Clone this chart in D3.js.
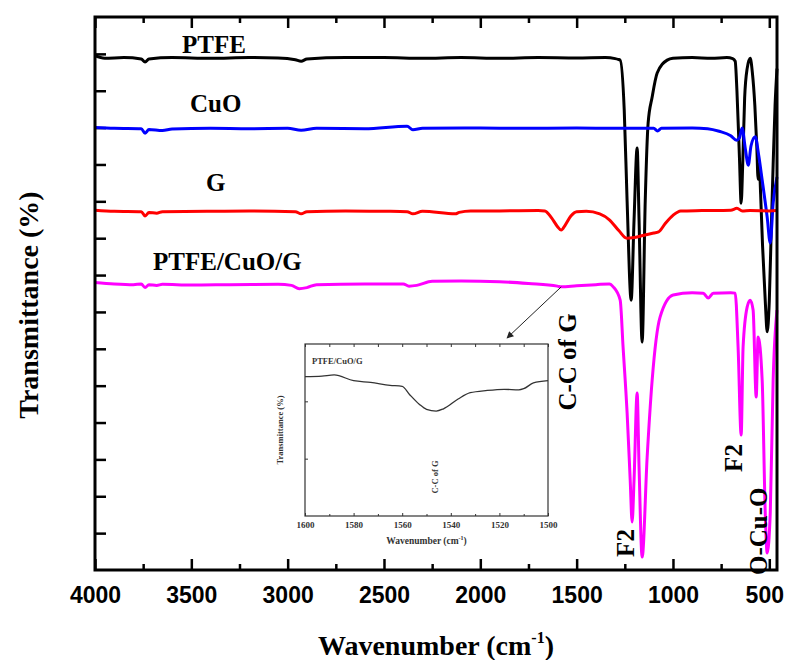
<!DOCTYPE html>
<html>
<head>
<meta charset="utf-8">
<script src="https://cdnjs.cloudflare.com/ajax/libs/d3/7.8.5/d3.min.js"></script>
<style>
body { margin: 0; background: #fff; }
.serif { font-family: "Liberation Serif", "Times New Roman", serif; font-weight: bold; }
.sans { font-family: "Liberation Sans", Arial, sans-serif; font-weight: bold; }
</style>
</head>
<body>
<div id="chart"></div>
<script>
// Spectra (wavenumber in cm-1, transmittance in arbitrary offset units)
var ptfeWave = [4000, 3950, 3850, 3760, 3740, 3720, 3600, 3400, 3200, 3050, 2960, 2930, 2900, 2700, 2500, 2300, 2100, 1900, 1700, 1500,
    1350, 1300, 1285, 1274, 1253, 1238, 1217, 1202, 1186, 1176, 1160, 1144, 1129, 1108, 1082, 1030, 1000, 900, 800, 720,
    690, 677, 668, 655, 646, 638, 628, 615, 599, 588, 575, 565, 558, 552, 545, 535, 520, 511, 500, 490, 480, 470, 460];
var ptfeT = [13.95, 13.88, 13.9, 13.86, 13.78, 13.86, 13.9, 13.88, 13.9, 13.89, 13.84, 13.8, 13.86, 13.9, 13.9, 13.88, 13.9, 13.88, 13.9, 13.89,
    13.9, 13.87, 13.85, 13.83, 12.48, 10.0, 7.32, 9.49, 11.45, 9.49, 6.18, 10.0, 12.12, 12.83, 13.48, 13.83, 13.88, 13.9, 13.88, 13.9,
    13.87, 13.8, 13.0, 11.2, 9.95, 11.0, 12.8, 13.6, 13.88, 13.5, 12.6, 11.5, 10.6, 11.0, 10.2, 8.8, 7.2, 6.46, 7.3, 9.2, 11.0, 12.6, 13.6];

var cuoWave = [4000, 3900, 3760, 3740, 3720, 3650, 3600, 3400, 3200, 3000, 2930, 2850, 2600, 2380, 2350, 2300, 2000, 1800, 1500, 1300,
    1100, 1080, 1060, 900, 820, 760, 700, 670, 655, 641, 625, 609, 595, 573, 555, 537, 511, 495, 480, 460];
var cuoT = [12.0, 11.98, 11.97, 11.85, 11.95, 11.92, 11.96, 11.98, 11.97, 11.98, 11.93, 11.98, 11.97, 12.04, 11.94, 11.98, 11.99, 11.98, 11.99, 11.98,
    11.98, 11.91, 11.98, 11.99, 11.97, 11.9, 11.78, 11.66, 11.72, 11.99, 11.45, 10.98, 11.5, 11.75, 11.25, 10.58, 9.57, 8.87, 9.95, 10.66];

var gWave = [4000, 3900, 3760, 3740, 3720, 3680, 3650, 3400, 3200, 2960, 2930, 2900, 2700, 2500, 2380, 2350, 2300, 2130, 2110, 2050,
    1900, 1700, 1665, 1630, 1600, 1580, 1560, 1530, 1500, 1450, 1380, 1330, 1280, 1240, 1200, 1150, 1100, 1075, 1040, 1000,
    960, 850, 700, 668, 640, 600, 500, 460];
var gT = [9.76, 9.73, 9.72, 9.6, 9.7, 9.68, 9.72, 9.73, 9.74, 9.72, 9.66, 9.72, 9.74, 9.73, 9.72, 9.66, 9.73, 9.66, 9.7, 9.74,
    9.74, 9.75, 9.74, 9.55, 9.32, 9.22, 9.35, 9.6, 9.72, 9.73, 9.66, 9.5, 9.2, 9.0, 9.02, 9.08, 9.14, 9.17, 9.4, 9.62,
    9.74, 9.75, 9.76, 9.81, 9.74, 9.75, 9.74, 9.75];

var mixWave = [4000, 3900, 3800, 3760, 3740, 3720, 3680, 3650, 3500, 3300, 3050, 2980, 2940, 2900, 2850, 2600, 2400, 2370, 2330, 2250,
    2100, 1900, 1750, 1600, 1580, 1500, 1400, 1330, 1310, 1274, 1259, 1238, 1222, 1212, 1202, 1186, 1176, 1160, 1134, 1108,
    1067, 999, 900, 843, 817, 791, 700, 677, 662, 646, 636, 615, 599, 584, 568, 558, 537, 521, 511, 495, 480, 460];
var mixT = [7.8, 7.76, 7.74, 7.76, 7.66, 7.74, 7.72, 7.75, 7.73, 7.74, 7.75, 7.72, 7.63, 7.66, 7.74, 7.76, 7.76, 7.7, 7.72, 7.83,
    7.84, 7.82, 7.77, 7.7, 7.68, 7.71, 7.74, 7.76, 7.68, 7.32, 6.05, 4.26, 2.44, 1.3, 2.44, 4.8, 2.79, 0.35, 3.06, 5.15,
    6.86, 7.46, 7.52, 7.51, 7.38, 7.51, 7.52, 7.51, 6.05, 3.66, 6.05, 7.13, 7.32, 7.05, 4.69, 6.32, 5.15, 1.55, 0.46, 1.55, 5.15, 7.05];

// inset: zoom of PTFE/CuO/G around the C-C band
var insetWave = [1600, 1593, 1588, 1580, 1573, 1565, 1560, 1557, 1553, 1550, 1546, 1543, 1537, 1532, 1525, 1518, 1512, 1510, 1506, 1500];
var insetT = [2.43, 2.44, 2.46, 2.36, 2.33, 2.28, 2.26, 2.12, 1.95, 1.86, 1.83, 1.87, 2.04, 2.15, 2.19, 2.21, 2.2, 2.22, 2.32, 2.36];

var seriesNames = ["PTFE", "CuO", "G", "PTFE/CuO/G"];
var seriesColors = ["#000000", "#0000ff", "#ff0000", "#ff00ff"];
var xMajorTicks = [4000, 3500, 3000, 2500, 2000, 1500, 1000, 500];
var xMinorTicks = [3750, 3250, 2750, 2250, 1750, 1250, 750];
var insetMajorTicks = [1600, 1580, 1560, 1540, 1520, 1500];
var insetMinorTicks = [1590, 1570, 1550, 1530, 1510];

var svgWidth = 787;
var svgHeight = 660;

var margin = { top: 17, right: 10, bottom: 90, left: 95 };
var width = svgWidth - margin.left - margin.right;
var height = svgHeight - margin.top - margin.bottom;

var svg = d3.select("#chart")
    .append("svg")
    .attr("width", svgWidth)
    .attr("height", svgHeight);

var defs = svg.append("defs");
defs.append("marker")
    .attr("id", "arrow")
    .attr("viewBox", "0 0 10 10")
    .attr("refX", 9)
    .attr("refY", 5)
    .attr("markerWidth", 9)
    .attr("markerHeight", 7)
    .attr("orient", "auto")
    .append("path")
    .attr("d", "M0,0L10,5L0,10z")
    .attr("fill", "#222");

var chartGroup = svg.append("g")
    .attr("transform", `translate(${margin.left}, ${margin.top})`);

var xScale = d3.scaleLinear().domain([4000, 460]).range([0, width]);
var yScale = d3.scaleLinear().domain([0, 15]).range([height, 0]);

// axes, ticks pointing inward
function styleAxis(g) {
    g.select(".domain").remove();
    g.selectAll(".tick line").attr("stroke", "#000").attr("stroke-width", 2.5);
}

chartGroup.append("g")
    .attr("transform", `translate(0, ${height})`)
    .call(d3.axisBottom(xScale).tickValues(xMajorTicks).tickSize(-11).tickPadding(17).tickFormat(d3.format("d")))
    .call(styleAxis)
    .selectAll("text")
    .attr("class", "sans")
    .attr("dx", d => d === 500 ? -5 : 0)
    .style("font-size", "23px")
    .attr("fill", "#000");

chartGroup.append("g")
    .attr("transform", `translate(0, ${height})`)
    .call(d3.axisBottom(xScale).tickValues(xMinorTicks).tickSize(-6).tickFormat(""))
    .call(styleAxis);

chartGroup.append("g")
    .call(d3.axisTop(xScale).tickValues(xMajorTicks).tickSize(-11).tickFormat(""))
    .call(styleAxis);

chartGroup.append("g")
    .call(d3.axisTop(xScale).tickValues(xMinorTicks).tickSize(-6).tickFormat(""))
    .call(styleAxis);

chartGroup.append("g")
    .call(d3.axisLeft(yScale).tickValues(d3.range(1, 15)).tickSize(-11).tickFormat(""))
    .call(styleAxis);

// spectra
var series = [
    d3.zip(ptfeWave, ptfeT),
    d3.zip(cuoWave, cuoT),
    d3.zip(gWave, gT),
    d3.zip(mixWave, mixT)
];

var line = d3.line()
    .x(d => xScale(d[0]))
    .y(d => yScale(d[1]))
    .curve(d3.curveMonotoneX);

chartGroup.selectAll(".spectrum")
    .data(series)
    .enter()
    .append("path")
    .attr("class", "spectrum")
    .attr("d", line)
    .attr("fill", "none")
    .attr("stroke", (d, i) => seriesColors[i])
    .attr("stroke-width", 3)
    .attr("stroke-linejoin", "round");

// frame
chartGroup.append("rect")
    .attr("width", width)
    .attr("height", height)
    .attr("fill", "none")
    .attr("stroke", "#000")
    .attr("stroke-width", 3);

// series labels
var labelPos = [[182, 53], [190, 112], [206, 191], [153, 270]];
svg.selectAll(".series-label")
    .data(seriesNames)
    .enter()
    .append("text")
    .attr("class", "serif")
    .attr("x", (d, i) => labelPos[i][0])
    .attr("y", (d, i) => labelPos[i][1])
    .style("font-size", "25px")
    .text(d => d);

// band annotations
var notes = [
    { t: "C-C of G", x: 576, y: 362, anchor: "middle" },
    { t: "F2", x: 634, y: 543, anchor: "middle" },
    { t: "F2", x: 742, y: 458, anchor: "middle" },
    { t: "O-Cu-O", x: 767, y: 575, anchor: "start" }
];
svg.selectAll(".note")
    .data(notes)
    .enter()
    .append("text")
    .attr("class", "serif")
    .attr("transform", d => `translate(${d.x}, ${d.y}) rotate(-90)`)
    .attr("text-anchor", d => d.anchor)
    .style("font-size", "25px")
    .text(d => d.t);

// axis titles
svg.append("text")
    .attr("class", "serif")
    .attr("transform", "translate(38, 305) rotate(-90)")
    .attr("text-anchor", "middle")
    .style("font-size", "28px")
    .text("Transmittance (%)");

var xTitle = svg.append("text")
    .attr("class", "serif")
    .attr("x", 436)
    .attr("y", 655)
    .attr("text-anchor", "middle")
    .style("font-size", "28px");
xTitle.append("tspan").text("Wavenumber (cm");
xTitle.append("tspan").attr("dy", -12).style("font-size", "16px").text("-1");
xTitle.append("tspan").attr("dy", 12).text(")");

// inset
var inset = { left: 305, top: 344, width: 243, height: 172 };
var insetGroup = svg.append("g")
    .attr("transform", `translate(${inset.left}, ${inset.top})`);

var ixScale = d3.scaleLinear().domain([1600, 1500]).range([0, inset.width]);
var iyScale = d3.scaleLinear().domain([0, 3]).range([inset.height, 0]);

insetGroup.append("rect")
    .attr("width", inset.width)
    .attr("height", inset.height)
    .attr("fill", "#fff")
    .attr("stroke", "#333")
    .attr("stroke-width", 1.2);

function styleInsetAxis(g) {
    g.select(".domain").remove();
    g.selectAll(".tick line").attr("stroke", "#333").attr("stroke-width", 1);
}

insetGroup.append("g")
    .attr("transform", `translate(0, ${inset.height})`)
    .call(d3.axisBottom(ixScale).tickValues(insetMajorTicks).tickSize(-3).tickPadding(6).tickFormat(d3.format("d")))
    .call(styleInsetAxis)
    .selectAll("text")
    .attr("class", "serif")
    .style("font-size", "9px")
    .attr("fill", "#333");

insetGroup.append("g")
    .attr("transform", `translate(0, ${inset.height})`)
    .call(d3.axisBottom(ixScale).tickValues(insetMinorTicks).tickSize(-2).tickFormat(""))
    .call(styleInsetAxis);

insetGroup.append("g")
    .call(d3.axisTop(ixScale).tickValues(insetMajorTicks.concat(insetMinorTicks)).tickSize(-3).tickFormat(""))
    .call(styleInsetAxis);

insetGroup.append("g")
    .call(d3.axisLeft(iyScale).tickValues([1, 2]).tickSize(-3).tickFormat(""))
    .call(styleInsetAxis);

insetGroup.append("path")
    .datum(d3.zip(insetWave, insetT))
    .attr("d", d3.line().x(d => ixScale(d[0])).y(d => iyScale(d[1])).curve(d3.curveMonotoneX))
    .attr("fill", "none")
    .attr("stroke", "#333")
    .attr("stroke-width", 1.3);

insetGroup.append("text")
    .attr("class", "serif")
    .attr("x", 7)
    .attr("y", 20)
    .style("font-size", "8.5px")
    .attr("fill", "#333")
    .text("PTFE/CuO/G");

insetGroup.append("text")
    .attr("class", "serif")
    .attr("transform", `translate(-22, ${iyScale(1.5)}) rotate(-90)`)
    .attr("text-anchor", "middle")
    .style("font-size", "8.5px")
    .attr("fill", "#333")
    .text("Transmittance (%)");

insetGroup.append("text")
    .attr("class", "serif")
    .attr("transform", `translate(${ixScale(1547) + 4}, 133) rotate(-90)`)
    .attr("text-anchor", "middle")
    .style("font-size", "8.5px")
    .attr("fill", "#333")
    .text("C-C of G");

var ixTitle = insetGroup.append("text")
    .attr("class", "serif")
    .attr("x", inset.width / 2)
    .attr("y", inset.height + 28)
    .attr("text-anchor", "middle")
    .style("font-size", "9.5px")
    .attr("fill", "#333");
ixTitle.append("tspan").text("Wavenumber (cm");
ixTitle.append("tspan").attr("dy", -4).style("font-size", "6px").text("-1");
ixTitle.append("tspan").attr("dy", 4).text(")");

// arrow from the main curve down to the inset
svg.append("line")
    .attr("x1", margin.left + xScale(1580))
    .attr("y1", margin.top + yScale(7.68))
    .attr("x2", 507)
    .attr("y2", 338)
    .attr("stroke", "#222")
    .attr("stroke-width", 1)
    .attr("marker-end", "url(#arrow)");
</script>
</body>
</html>
